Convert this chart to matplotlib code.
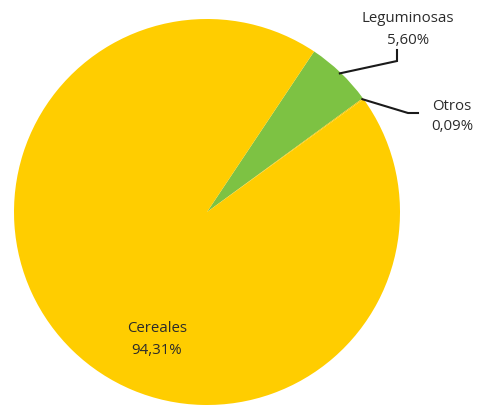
import numpy as np
import matplotlib
matplotlib.use("Agg")
import matplotlib.pyplot as plt

categories = ["Leguminosas", "Otros", "Cereales"]
values = [5.60, 0.09, 94.31]
labels_pct = ["5,60%", "0,09%", "94,31%"]
colors = ["#7DC243", "#F5C400", "#FFCD00"]

W, H = 481, 405
fig = plt.figure(figsize=(W / 100, H / 100), dpi=100)
ax = fig.add_axes([0, 0, 1, 1])

cx, cy, r = 207, H - 212, 193
wedges, _ = ax.pie(values, colors=colors, startangle=56.3, counterclock=False,
                   center=(cx, cy), radius=r, frame=True,
                   wedgeprops=dict(linewidth=0))
ax.set_xlim(0, W)
ax.set_ylim(0, H)
ax.set_aspect("equal")
ax.axis("off")

txt = dict(color="#2b2b2b", fontsize=10.8, family="Open Sans", ha="center")

def mid_point(w, rr):
    a = np.deg2rad((w.theta1 + w.theta2) / 2)
    return cx + rr * np.cos(a), cy + rr * np.sin(a)

# Leguminosas leader
x0, y0 = mid_point(wedges[0], r - 1)
ax.plot([x0, 397, 397], [y0, H - 61, H - 50], color="#1a1a1a", lw=1.5,
        solid_joinstyle="miter")
ax.text(408, H - 18, categories[0], va="center", **txt)
ax.text(408, H - 41, labels_pct[0], va="center", **txt)

# Otros leader
x1, y1 = mid_point(wedges[1], r - 1)
ax.plot([x1, 408, 418], [y1, H - 113, H - 113], color="#1a1a1a", lw=1.5,
        solid_joinstyle="miter")
ax.text(452, H - 106, categories[1], va="center", **txt)
ax.text(452, H - 127, labels_pct[1], va="center", **txt)

# Cereales inside label
ax.text(157, H - 328, categories[2], va="center", **txt)
ax.text(157, H - 350, labels_pct[2], va="center", **txt)

fig.savefig("out.png", dpi=100)
